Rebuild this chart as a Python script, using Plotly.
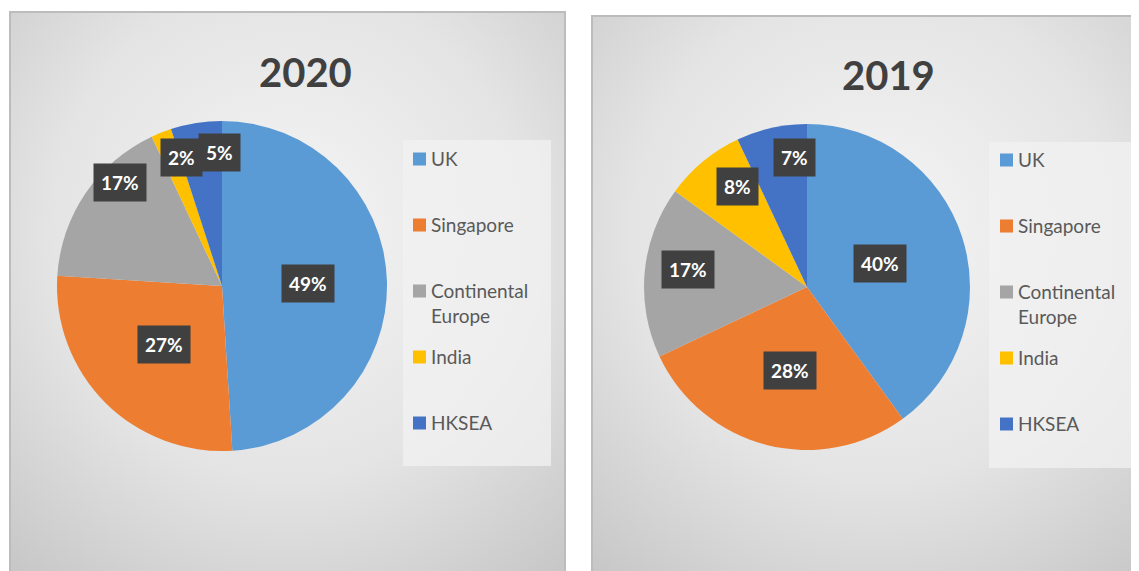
import base64
import math
import plotly.graph_objects as go

# data
regions = ["UK", "Singapore", "Continental Europe", "India", "HKSEA"]
legend_text = ["UK", "Singapore", "Continental<br>Europe", "India", "HKSEA"]
share_2020 = [49, 27, 17, 2, 5]
share_2019 = [40, 28, 17, 8, 7]
colors = ["#5B9BD5", "#ED7D31", "#A5A5A5", "#FFC000", "#4472C4"]

W, H = 1139, 571
OFF = 8  # page body margin, the figure sits 8px in from the window corner


def px(x):
    return (x - OFF) / W


def py(y):
    return 1 - (y - OFF) / H


def gradient_uri(w, h):
    svg = ("<svg xmlns='http://www.w3.org/2000/svg' width='%d' height='%d'>"
           "<defs><radialGradient id='g' cx='0.5' cy='0.38' r='0.78'>"
           "<stop offset='0' stop-color='#f5f5f5'/>"
           "<stop offset='0.55' stop-color='#e4e4e4'/>"
           "<stop offset='1' stop-color='#c6c6c6'/>"
           "</radialGradient></defs>"
           "<rect width='100%%' height='100%%' fill='url(#g)'/></svg>") % (w, h)
    return "data:image/svg+xml;base64," + base64.b64encode(svg.encode()).decode()


# panel settings: frame, pie centre/radius, label radius fractions + angle nudges
# (Excel "best fit" labels don't sit exactly on the mid angle), legend pos
panels = [
    dict(title="2020", values=share_2020, frame=(10, 12, 565, 590), title_xy=(305, 72),
         center=(222, 286), r=165, fracs=[0.52, 0.5, 0.88, 0.82, 0.81],
         nudge=[0, 0, 11, 4, 8],
         legend_box=(403, 140, 551, 466), legend_x=413, legend_y0=159),
    dict(title="2019", values=share_2019, frame=(592, 16, 1160, 590), title_xy=(888, 75),
         center=(807, 287), r=163, fracs=[0.47, 0.52, 0.74, 0.75, 0.8],
         nudge=[0, -3, 3, 5, 7],
         legend_box=(989, 142, 1160, 468), legend_x=1000, legend_y0=160),
]

fig = go.Figure()
shapes = []
annotations = []
images = []

for p in panels:
    x0, y0, x1, y1 = p["frame"]
    images.append(dict(source=gradient_uri(x1 - x0, y1 - y0), xref="paper", yref="paper",
                       x=px(x0), y=py(y0), sizex=px(x1) - px(x0), sizey=py(y0) - py(y1),
                       sizing="stretch", xanchor="left", yanchor="top", layer="below"))
    shapes.append(dict(type="rect", xref="paper", yref="paper", x0=px(x0), x1=px(x1),
                       y0=py(y1), y1=py(y0), line=dict(color="#bcbcbc", width=2)))

    cx, cy = p["center"]
    r = p["r"]
    fig.add_trace(go.Pie(
        labels=regions, values=p["values"], sort=False, direction="clockwise",
        marker=dict(colors=colors, line=dict(width=0)),
        textinfo="none", showlegend=False, hoverinfo="label+percent",
        domain=dict(x=[px(cx - r), px(cx + r)], y=[py(cy + r), py(cy - r)]),
    ))

    # title
    annotations.append(dict(text=p["title"], x=px(p["title_xy"][0]), y=py(p["title_xy"][1]),
                            xref="paper", yref="paper", xanchor="center", yanchor="middle",
                            showarrow=False,
                            font=dict(family="Lato, Open Sans", size=40, color="#404040", weight=700)))

    # data labels in dark boxes, placed around the slice mid angle
    total = sum(p["values"])
    cum = 0
    for v, f, n in zip(p["values"], p["fracs"], p["nudge"]):
        a = (cum + v / 2) / total * 2 * math.pi + math.radians(n)
        cum += v
        lx = cx + f * r * math.sin(a)
        ly = cy - f * r * math.cos(a)
        annotations.append(dict(text="%d%%" % v, x=px(lx), y=py(ly), xref="paper", yref="paper",
                                xanchor="center", yanchor="middle",
                                showarrow=False, bgcolor="#404040", borderpad=7,
                                font=dict(family="Lato, Open Sans", size=19, color="white", weight=700)))

    # legend box
    bx0, by0, bx1, by1 = p["legend_box"]
    shapes.append(dict(type="rect", xref="paper", yref="paper", x0=px(bx0), x1=px(bx1),
                       y0=py(by1), y1=py(by0), line=dict(width=0), fillcolor="rgba(242,242,242,0.75)",
                       layer="below"))
    for i, (name, c) in enumerate(zip(legend_text, colors)):
        yc = p["legend_y0"] + i * 66
        lx = p["legend_x"]
        shapes.append(dict(type="rect", xref="paper", yref="paper", x0=px(lx), x1=px(lx + 13),
                           y0=py(yc + 6.5), y1=py(yc - 6.5), line=dict(width=0), fillcolor=c))
        annotations.append(dict(text=name, x=px(lx + 16), y=py(yc - 14), xref="paper", yref="paper",
                                xanchor="left", yanchor="top", align="left", showarrow=False,
                                font=dict(family="Lato, Open Sans", size=19, color="#595959")))

fig.update_layout(
    width=W, height=H,
    margin=dict(l=0, r=0, t=0, b=0),
    paper_bgcolor="white",
    plot_bgcolor="white",
    shapes=shapes,
    annotations=annotations,
    images=images,
)

fig.write_html("out.html")
